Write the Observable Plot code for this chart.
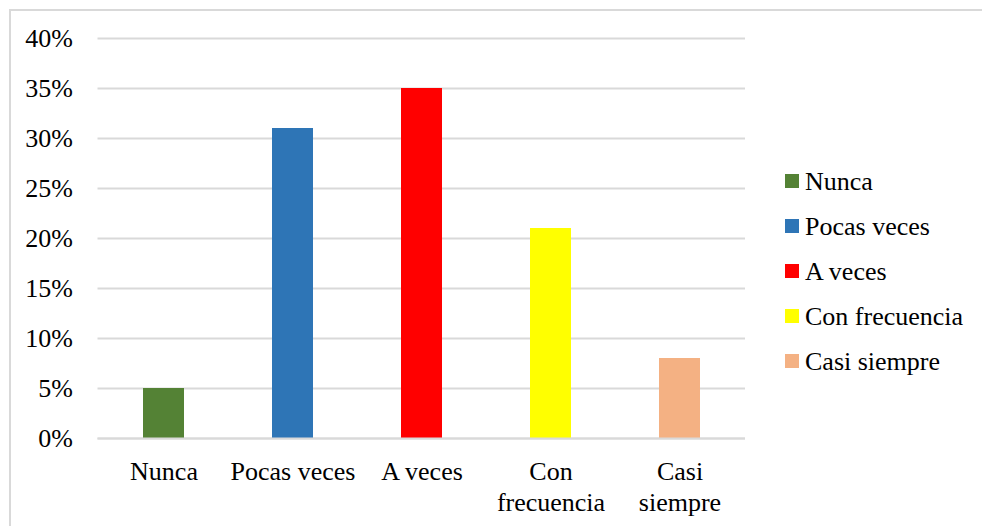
<!DOCTYPE html>
<html>
<head>
<meta charset="utf-8">
<script src="https://cdn.jsdelivr.net/npm/d3@7"></script>
<script src="https://cdn.jsdelivr.net/npm/@observablehq/plot@0.6"></script>
<style>
  html, body { margin: 0; padding: 0; background: #fff; }
  #wrap { position: relative; width: 982px; height: 526px; overflow: hidden; font-family: 'Liberation Serif', serif; }
  #frame { position: absolute; left: 9px; top: 9px; width: 1000px; height: 600px; border-top: 2px solid #d9d9d9; border-left: 2px solid #d9d9d9; box-sizing: border-box; }
  #chart { position: absolute; left: 0; top: 0; }
  #legend { position: absolute; left: 785px; top: 158px; font-size: 26px; color: #000; font-family: 'Liberation Serif', serif; }
  .item { display: flex; align-items: center; height: 45px; }
  .sw { width: 14px; height: 14px; margin-right: 6px; flex: none; }
  .lab { line-height: 1; position: relative; top: 1px; font-family: 'Liberation Serif', serif; }
  svg text { font-family: 'Liberation Serif', serif; }
</style>
</head>
<body>
<div id="wrap">
  <div id="frame"></div>
  <div id="chart"></div>
  <div id="legend"></div>
</div>
<script>
const categories = ["Nunca", "Pocas veces", "A veces", "Con frecuencia", "Casi siempre"];
const tickLabels = ["Nunca", "Pocas veces", "A veces", "Con\nfrecuencia", "Casi\nsiempre"];
const values = [0.05, 0.31, 0.35, 0.21, 0.08];
const colors = ["#548235", "#2e75b6", "#ff0000", "#ffff00", "#f4b183"];
const yTicks = [0, 0.05, 0.10, 0.15, 0.20, 0.25, 0.30, 0.35, 0.40];

const data = categories.map((c, i) => ({cat: c, value: values[i]}));
const labelOf = new Map(categories.map((c, i) => [c, tickLabels[i]]));
const serif = "'Liberation Serif', serif";

const plot = Plot.plot({
  width: 982,
  height: 526,
  marginLeft: 97.5,
  marginRight: 237,
  marginTop: 38,
  marginBottom: 88,
  style: {fontFamily: serif, fontSize: "26px", color: "#000", background: "transparent"},
  x: {domain: categories, paddingInner: 0.683, paddingOuter: 0.3415, label: null},
  y: {domain: [0, 0.4], label: null},
  color: {domain: categories, range: colors},
  marks: [
    Plot.gridY(yTicks, {stroke: "#d9d9d9", strokeOpacity: 1, strokeWidth: 2}),
    Plot.barY(data, {x: "cat", y: "value", fill: "cat"}),
    Plot.ruleY([0], {stroke: "#d9d9d9", strokeWidth: 2}),
    Plot.axisY(yTicks, {tickSize: 0, tickPadding: 25, tickFormat: d => Math.round(d * 100) + "%", label: null, fontSize: 26, fontFamily: serif}),
    Plot.axisX({tickSize: 0, tickPadding: 20, tickFormat: d => labelOf.get(d), lineHeight: 1.19, label: null, fontSize: 26, fontFamily: serif})
  ]
});
document.getElementById("chart").appendChild(plot);

const legend = document.getElementById("legend");
categories.forEach((c, i) => {
  const item = document.createElement("div");
  item.className = "item";
  const sw = document.createElement("span");
  sw.className = "sw";
  sw.style.background = colors[i];
  const lab = document.createElement("span");
  lab.className = "lab";
  lab.textContent = c;
  item.appendChild(sw);
  item.appendChild(lab);
  legend.appendChild(item);
});
</script>
</body>
</html>
